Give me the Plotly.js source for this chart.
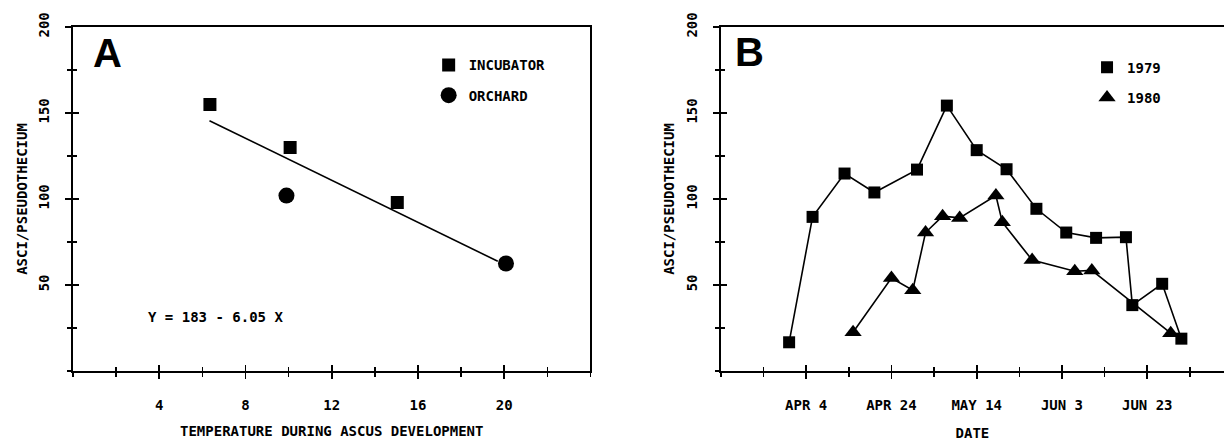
<!DOCTYPE html>
<html><head><meta charset="utf-8">
<script src="https://cdn.plot.ly/plotly-3.0.1.min.js"></script>
<style>html,body{margin:0;padding:0;background:#fff;} #chart{width:1224px;height:441px;}</style>
</head><body><div id="chart"></div>
<script>
// ---------- Panel A ----------
const incubatorTemp = [6.35, 10.07, 15.04];
const incubatorAsci = [155, 130, 98];
const orchardTemp = [9.9, 20.08];
const orchardAsci = [102, 62.5];
const fitTemp = [6.33, 19.7];
const fitAsci = [145.5, 63.8];
const equationText = 'Y = 183 - 6.05 X';
const tempTickVals = [4, 8, 12, 16, 20];
const tempTickText = ['4', '8', '12', '16', '20'];
const asciTickVals = [50, 100, 150, 200];
const asciTickText = ['50', '100', '150', '200'];

// ---------- Panel B ----------
const refYear = '1979';
const dates1979 = ['03-31', '04-05 12:00', '04-13', '04-20', '04-30', '05-07', '05-14', '05-21', '05-28', '06-04', '06-11', '06-18', '06-19 12:00', '06-26 12:00', '07-01'];
const asci1979 = [16.7, 89.6, 114.8, 103.8, 117.1, 154.3, 128.4, 117.3, 94.3, 80.5, 77.4, 77.8, 38.3, 50.7, 18.8];
const dates1980 = ['04-15', '04-24', '04-29', '05-02', '05-06', '05-10', '05-18 12:00', '05-20', '05-27', '06-06', '06-10', '06-28 12:00'];
const asci1980 = [22.5, 54, 47, 80.5, 90, 89, 102, 86.5, 64.5, 58, 58.5, 22];
const dateTickVals = ['04-04', '04-24', '05-14', '06-03', '06-23'];
const dateTickText = ['APR 4', 'APR 24', 'MAY 14', 'JUN 3', 'JUN 23'];
const dateRange = ['03-15', '07-11'];

const toDate = d => refYear + '-' + d;
const FONT = 'DejaVu Sans Mono, monospace';
const FS = 14;
const FW = 'bold';
const TEN_DAYS = 864000000;
const LW = 1.6;

const x1979 = dates1979.map(toDate);
const x1980 = dates1980.map(toDate);

const traces = [
  {x: fitTemp, y: fitAsci, mode: 'lines', line: {color: '#000', width: LW}, showlegend: false, xaxis: 'x', yaxis: 'y'},
  {x: incubatorTemp, y: incubatorAsci, mode: 'markers', name: 'INCUBATOR', legendgroup: 'a1', legendrank: 1,
   marker: {symbol: 'square', size: 13, color: '#000'}, xaxis: 'x', yaxis: 'y', legend: 'legend'},
  {x: orchardTemp, y: orchardAsci, mode: 'markers', name: 'ORCHARD', legendgroup: 'a2', legendrank: 2,
   marker: {symbol: 'circle', size: 16, color: '#000'}, xaxis: 'x', yaxis: 'y', legend: 'legend'},
  // connecting lines (no legend entry)
  {x: x1980, y: asci1980, mode: 'lines', line: {color: '#000', width: LW}, showlegend: false, xaxis: 'x2', yaxis: 'y2'},
  {x: x1979, y: asci1979, mode: 'lines', line: {color: '#000', width: LW}, showlegend: false, xaxis: 'x2', yaxis: 'y2'},
  // markers
  {x: x1980, y: asci1980, mode: 'markers', name: '1980', legendgroup: 'b2', legendrank: 2,
   marker: {symbol: 'triangle-up', size: 15, color: '#000'}, xaxis: 'x2', yaxis: 'y2', legend: 'legend2'},
  {x: x1979, y: asci1979, mode: 'markers', name: '1979', legendgroup: 'b1', legendrank: 1,
   marker: {symbol: 'square', size: 12, color: '#000'}, xaxis: 'x2', yaxis: 'y2', legend: 'legend2'},
  // empty traces so the inward-tick overlay axes are drawn
  {x: [], y: [], xaxis: 'x3', yaxis: 'y3', showlegend: false},
  {x: [], y: [], xaxis: 'x4', yaxis: 'y4', showlegend: false}
];

const txtFont = {family: FONT, size: FS, color: '#000', weight: FW};
const common = {
  showgrid: false, zeroline: false, linecolor: '#000', linewidth: 2,
  ticks: 'outside', ticklen: 6, tickwidth: LW, tickcolor: '#000',
  tickfont: txtFont, fixedrange: true
};
const minorOut = {ticks: 'outside', ticklen: 4, tickwidth: 1.4, tickcolor: '#000'};
const minorIn = {ticks: 'inside', ticklen: 4, tickwidth: 1.4, tickcolor: '#000'};
const overlayBase = {showline: false, showgrid: false, zeroline: false, showticklabels: false,
  ticks: 'inside', ticklen: 6, tickwidth: LW, tickcolor: '#000', tickmode: 'array', fixedrange: true};
const domA = [0, 0.4496];
const domB = [0.5629, 1];

const layout = {
  width: 1224, height: 441,
  margin: {l: 73, r: 0, t: 27, b: 70},
  paper_bgcolor: '#fff', plot_bgcolor: '#fff',
  font: txtFont,
  xaxis: Object.assign({}, common, {
    domain: domA, anchor: 'y', range: [0, 24], mirror: true,
    tickmode: 'array', tickvals: tempTickVals, ticktext: tempTickText,
    minor: Object.assign({dtick: 2, tick0: 0}, minorOut),
    ticklabelstandoff: 14,
    title: {text: 'TEMPERATURE DURING ASCUS DEVELOPMENT', font: txtFont, standoff: 14}
  }),
  yaxis: Object.assign({}, common, {
    domain: [0, 1], anchor: 'x', range: [0, 200], mirror: true,
    tickmode: 'array', tickvals: asciTickVals, ticktext: asciTickText, tickangle: -90,
    minor: Object.assign({dtick: 25, tick0: 0}, minorOut),
    ticklabelstandoff: 10,
    title: {text: 'ASCI/PSEUDOTHECIUM', font: txtFont, standoff: 6}
  }),
  xaxis2: Object.assign({}, common, {
    domain: domB, anchor: 'y2', type: 'date', range: dateRange.map(toDate), mirror: true,
    tickmode: 'array', tickvals: dateTickVals.map(toDate), ticktext: dateTickText,
    minor: Object.assign({dtick: TEN_DAYS, tick0: toDate(dateRange[0])}, minorOut),
    ticklabelstandoff: 14,
    title: {text: 'DATE', font: txtFont, standoff: 16}
  }),
  yaxis2: Object.assign({}, common, {
    domain: [0, 1], anchor: 'x2', range: [0, 200],
    tickmode: 'array', tickvals: asciTickVals, ticktext: asciTickText, tickangle: -90,
    minor: Object.assign({dtick: 25, tick0: 0}, minorOut),
    ticklabelstandoff: 10,
    title: {text: 'ASCI/PSEUDOTHECIUM', font: txtFont, standoff: 6}
  }),
  // overlay axes providing the inward half of the crossing ticks
  xaxis3: Object.assign({}, overlayBase, {overlaying: 'x', anchor: 'y', range: [0, 24], tickvals: tempTickVals,
    minor: Object.assign({dtick: 2, tick0: 0}, minorIn)}),
  yaxis3: Object.assign({}, overlayBase, {overlaying: 'y', anchor: 'x', side: 'left', range: [0, 200], tickvals: asciTickVals,
    minor: Object.assign({dtick: 25, tick0: 0}, minorIn)}),
  xaxis4: Object.assign({}, overlayBase, {overlaying: 'x2', anchor: 'y2', type: 'date', range: dateRange.map(toDate),
    tickvals: dateTickVals.map(toDate),
    minor: Object.assign({dtick: TEN_DAYS, tick0: toDate(dateRange[0])}, minorIn)}),
  yaxis4: Object.assign({}, overlayBase, {overlaying: 'y2', anchor: 'x2', side: 'left', range: [0, 200], tickvals: asciTickVals,
    minor: Object.assign({dtick: 25, tick0: 0}, minorIn)}),
  legend: {x: 0.309, y: 0.935, xanchor: 'left', yanchor: 'top', bgcolor: 'rgba(0,0,0,0)',
    font: txtFont, tracegroupgap: 9, traceorder: 'grouped'},
  legend2: {x: 0.881, y: 0.928, xanchor: 'left', yanchor: 'top', bgcolor: 'rgba(0,0,0,0)',
    font: txtFont, tracegroupgap: 9, traceorder: 'grouped'},
  annotations: [
    {xref: 'x domain', yref: 'y domain', x: 0.0667, y: 0.924, text: '<b>A</b>', showarrow: false,
     font: {family: 'Liberation Sans, Arial, sans-serif', size: 40, color: '#000'}, xanchor: 'center', yanchor: 'middle'},
    {xref: 'x2 domain', yref: 'y2 domain', x: 0.0559, y: 0.927, text: '<b>B</b>', showarrow: false,
     font: {family: 'Liberation Sans, Arial, sans-serif', size: 40, color: '#000'}, xanchor: 'center', yanchor: 'middle'},
    {xref: 'x domain', yref: 'y domain', x: 0.276, y: 0.157, text: equationText, showarrow: false,
     font: txtFont, xanchor: 'center', yanchor: 'middle'}
  ],
  hovermode: false
};

Plotly.newPlot('chart', traces, layout, {displayModeBar: false, staticPlot: true});
</script>
</body></html>
